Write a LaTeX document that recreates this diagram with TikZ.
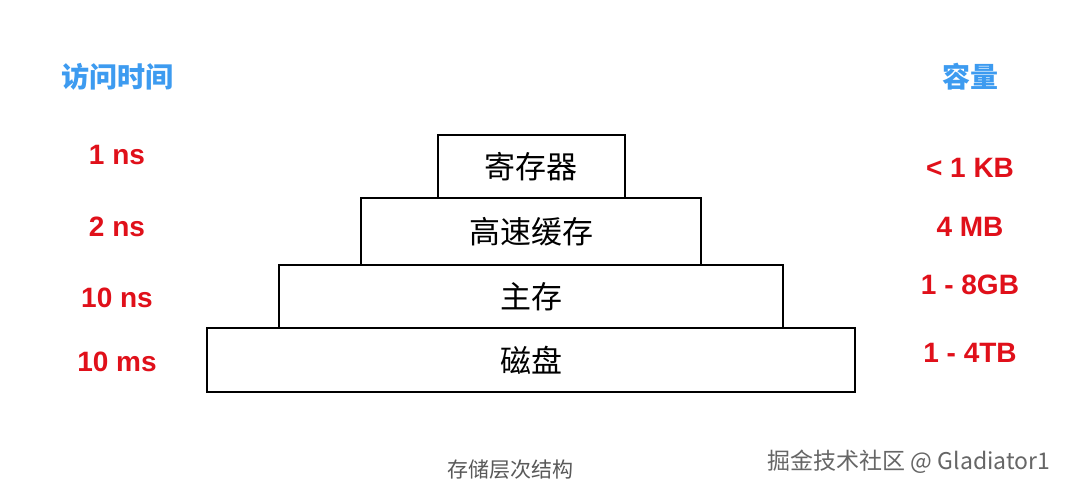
\documentclass[tikz,border=0pt]{standalone}
\usepackage{fontspec}
\setmainfont{Liberation Sans}
\newfontfamily\cjk{Noto Sans CJK SC}
\definecolor{lblue}{HTML}{3D9BF0}
\definecolor{lred}{HTML}{E0101A}
\tikzset{
 layer/.style={draw=black,line width=1.3pt,fill=white,inner sep=0pt},
 boxtext/.style={font=\cjk\fontsize{31}{33}\selectfont},
 head/.style={font=\cjk\bfseries\fontsize{28}{30}\selectfont,text=lblue},
 val/.style={font=\bfseries\fontsize{28}{30}\selectfont,text=lred},
}
\begin{document}
\begin{tikzpicture}[x=1pt,y=-1pt]
\useasboundingbox[fill=white] (0,0) rectangle (1080,492);
\draw[layer] (207,328) rectangle (855,392);
\draw[layer] (279,265) rectangle (783,328);
\draw[layer] (361,198) rectangle (701,265);
\draw[layer] (438,135) rectangle (625,198);
\node[boxtext] (r) at (531,167) {寄存器};
\node[boxtext] (c) at (531,232) {高速缓存};
\node[boxtext] (m) at (531,297) {主存};
\node[boxtext] (d) at (531,360) {磁盘};
\node[head] (h1) at (117,77) {访问时间};
\node[head] (h2) at (970,77) {容量};
\node[val] (t1) at (117,155) {1 ns};
\node[val] (t2) at (117,227) {2 ns};
\node[val] (t3) at (117,298) {10 ns};
\node[val] (t4) at (117,362) {10 ms};
\node[val] (s1) at (970,168) {< 1 KB};
\node[val] (s2) at (970,227) {4 MB};
\node[val] (s3) at (970,285) {1 - 8GB};
\node[val] (s4) at (970,353) {1 - 4TB};
\node[font=\cjk\fontsize{21}{23}\selectfont,text=black!65] (cap) at (510,470) {存储层次结构};
\node[font=\cjk\fontsize{23}{25}\selectfont,text=black!60] (wm) at (909,462) {掘金技术社区 @ Gladiator1};
\end{tikzpicture}
\end{document}
